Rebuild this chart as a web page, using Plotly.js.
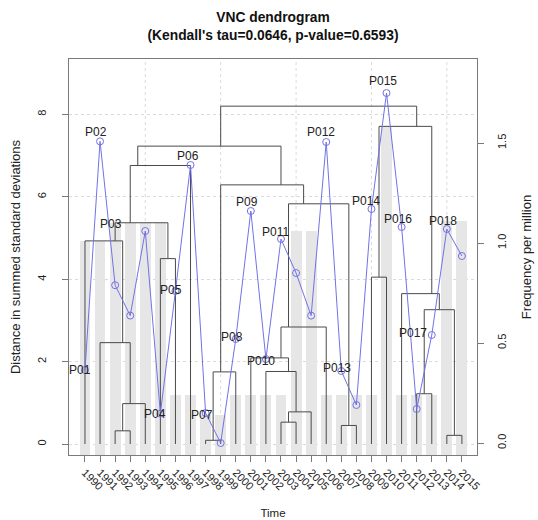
<!DOCTYPE html>
<html><head><meta charset="utf-8">
<script src="https://cdn.plot.ly/plotly-3.0.1.min.js"></script>
<style>html,body{margin:0;padding:0;background:#fff}</style>
</head><body>
<div id="chart" style="width:538px;height:520px"></div>
<script>
// ---- data ----
const years = [1990,1991,1992,1993,1994,1995,1996,1997,1998,1999,2000,2001,2002,
               2003,2004,2005,2006,2007,2008,2009,2010,2011,2012,2013,2014,2015];
// frequency per million (blue line, right axis)
const freq = [0.365,1.508,0.789,0.637,1.06,0.147,0.76,1.39,0.15,0.0,0.52,1.16,0.42,
              1.02,0.85,0.637,1.505,0.36,0.19,1.17,1.75,1.08,0.17,0.54,1.07,0.935];
// grey background bars (unlabelled scale, base at plot floor)
const barHeights = [1.07,1.07,1.16,1.16,1.16,1.16,0.3,0.3,0.2,0.2,0.3,0.3,0.3,
                    0.3,1.12,1.12,0.3,0.3,0.3,0.3,1.64,0.3,0.3,0.3,1.17,1.17];
// VNC merges: cluster [lo..hi] formed from [lo..mid] + [mid+1..hi] at height
const mergeLo     = [3,3,2,1,6,1,1, 9,9,14,14,13,12,12,18,12,9, 1, 25,23,23,22,20,20, 1];
const mergeMid    = [3,4,2,1,6,5,7, 9,10,14,15,13,12,16,18,17,11, 8, 25,23,24,22,20,21, 19];
const mergeHi     = [4,5,5,5,7,7,8, 10,11,15,16,16,16,17,19,19,19, 19, 26,24,26,26,21,26, 26];
const mergeHeight = [0.32,0.98,2.46,4.93,4.50,5.37,6.76, 0.09,1.75,0.53,0.78,1.76,2.09,2.84,0.45,5.83,6.29, 7.23,
                     0.21,1.22,3.26,3.65,4.05,7.71, 8.20];
// period labels and the year (index) they belong to
const periodLabels = ['P01','P02','P03','P04','P05','P06','P07','P08','P09','P010',
                      'P011','P012','P013','P014','P015','P016','P017','P018'];
const labelYearIdx = [1,2,3,6,7,8,9,11,12,13,14,17,18,20,21,22,24,25];
const yTicksLeft = [0,2,4,6,8];
const yTicksRight = [0,0.5,1,1.5];
const yTickTextRight = ['0.0','0.5','1.0','1.5'];
const gridX = [5,10,15,20,25];

// ---- label placement (style) ----
const labelShiftX = [-5,-4,-4,-5,-4,-3,-4,-4,-4,-5,-5,-5,-4,-5,-4,-4,-19,-4];
const labelShiftY = [0,9,61,0,1,9,-2,2,9,-2,7,10,3,8,12,8,2,8];

const idx = years.map((_, i) => i + 1);

// dendrogram segments
const hOf = {};
mergeLo.forEach((lo, k) => { hOf[lo + '-' + mergeHi[k]] = mergeHeight[k]; });
const childH = (lo, hi) => lo === hi ? 0 : hOf[lo + '-' + hi];
const dx = [], dy = [];
mergeLo.forEach((lo, k) => {
  const mid = mergeMid[k], hi = mergeHi[k], h = mergeHeight[k];
  const xl = (lo + mid) / 2, xr = (mid + 1 + hi) / 2;
  dx.push(xl, xl, xr, xr, null);
  dy.push(childH(lo, mid), h, h, childH(mid + 1, hi), null);
});

const FONT = 'Liberation Sans, Arial, Helvetica, sans-serif';
const axisCol = '#7a7a7a';

const traces = [
  { type: 'bar', x: idx, y: barHeights, xaxis: 'x', yaxis: 'y', width: 0.72,
    marker: { color: '#e6e6e6', line: { width: 0 } }, hoverinfo: 'skip' },
  { type: 'scatter', mode: 'lines', x: dx, y: dy, xaxis: 'x', yaxis: 'y2',
    line: { color: '#4a4a4a', width: 1 }, hoverinfo: 'skip' },
  { type: 'scatter', mode: 'lines+markers', x: idx, y: freq, xaxis: 'x', yaxis: 'y3',
    line: { color: '#7272e6', width: 1 },
    marker: { symbol: 'circle-open', size: 7, color: '#7272e6', line: { width: 1 } },
    hoverinfo: 'skip' }
];

const annotations = periodLabels.map((t, k) => ({
  text: t, x: labelYearIdx[k], y: freq[labelYearIdx[k] - 1], xref: 'x', yref: 'y3',
  showarrow: false, xshift: labelShiftX[k], yshift: labelShiftY[k],
  font: { family: FONT, size: 12, color: '#222' }
}));

const shapes = gridX.map(g => ({
  type: 'line', xref: 'x', yref: 'paper', x0: g, x1: g, y0: 0, y1: 1, layer: 'below',
  line: { color: '#dadada', width: 1, dash: 'dot' }
}));

const layout = {
  width: 538, height: 520,
  margin: { l: 69, r: 61, t: 59, b: 65 },
  paper_bgcolor: '#fff', plot_bgcolor: 'rgba(0,0,0,0)',
  showlegend: false, barmode: 'overlay', bargap: 0,
  font: { family: FONT, color: '#222' },
  title: { text: '<b>VNC dendrogram<br>(Kendall\'s tau=0.0646, p-value=0.6593)</b>',
           x: 0.5, xanchor: 'center', xref: 'paper', y: 0.957, yref: 'container', yanchor: 'top',
           font: { family: FONT, size: 13.8, color: '#111' } },
  xaxis: { range: [-0.06, 27.0], tickvals: idx, ticktext: years.map(String), tickangle: 45,
           ticks: 'outside', ticklen: 6, tickcolor: axisCol, showline: true, mirror: true,
           linecolor: axisCol, linewidth: 1, showgrid: false, zeroline: false,
           tickfont: { size: 11, color: '#222' },
           title: { text: 'Time', font: { size: 11.5, color: '#222' }, standoff: 17 } },
  yaxis: { range: [0, 1.98], visible: false, fixedrange: true },
  yaxis2: { overlaying: 'y', side: 'left', range: [-0.267, 9.345], tickvals: yTicksLeft,
            tickangle: -90, ticks: 'outside', ticklen: 6, tickcolor: axisCol, showline: true,
            mirror: true, linecolor: axisCol, showgrid: true, gridcolor: '#dadada', griddash: 'dot',
            zeroline: false, tickfont: { size: 11, color: '#222' }, ticklabelstandoff: 12,
            title: { text: 'Distance in summed standard deviations', font: { size: 13, color: '#222' }, standoff: 12 } },
  yaxis3: { overlaying: 'y', side: 'right', range: [-0.06, 1.92], tickvals: yTicksRight,
            ticktext: yTickTextRight, tickangle: -90, ticks: 'outside', ticklen: 6, tickcolor: axisCol,
            showline: true, linecolor: axisCol, showgrid: false, zeroline: false,
            tickfont: { size: 11, color: '#222' }, ticklabelstandoff: 9,
            title: { text: 'Frequency per million', font: { size: 13, color: '#222' }, standoff: 14 } },
  shapes: shapes,
  annotations: annotations
};

Plotly.newPlot('chart', traces, layout, { displayModeBar: false, staticPlot: true });
</script>
</body></html>
